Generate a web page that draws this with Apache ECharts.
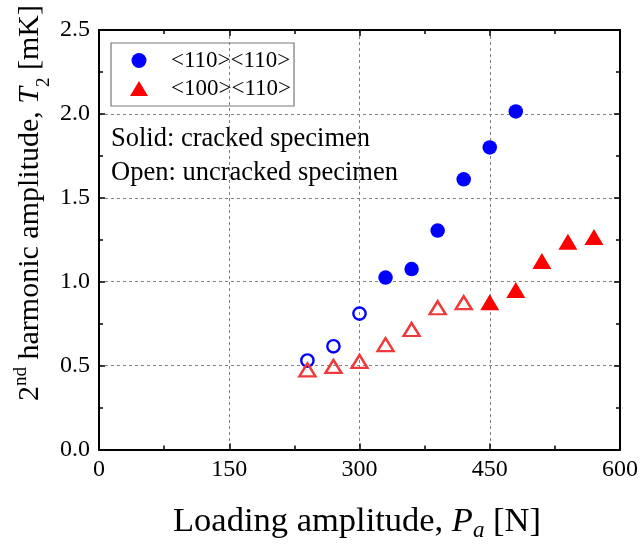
<!DOCTYPE html>
<html><head><meta charset="utf-8">
<script src="https://cdn.jsdelivr.net/npm/echarts@6/dist/echarts.min.js"></script>
<style>html,body{margin:0;padding:0;background:#fff}#c{width:641px;height:544px}</style>
</head><body><div id="c"></div>
<script>
const xMin = 0, xMax = 600, xStep = 150;
const yMin = 0, yMax = 2.5, yStep = 0.5;
const seriesNames = ['<110><110>', '<100><110>'];
const blueOpenX = [240, 270, 300];
const blueOpenY = [0.53, 0.615, 0.81];
const blueSolidX = [330, 360, 390, 420, 450, 480];
const blueSolidY = [1.025, 1.075, 1.305, 1.61, 1.80, 2.015];
const redOpenX = [240, 270, 300, 330, 360, 390, 420];
const redOpenY = [0.475, 0.495, 0.525, 0.625, 0.715, 0.845, 0.875];
const redSolidX = [450, 480, 510, 540, 570];
const redSolidY = [0.878, 0.95, 1.123, 1.238, 1.266];
const annotations = ['Solid: cracked specimen', 'Open: uncracked specimen'];

const FF = 'Liberation Serif';
const zip = (xs, ys) => xs.map((x, i) => [x, ys[i]]);

function axisBase(extra) {
  return Object.assign({
    type: 'value',
    axisLine: { show: true, onZero: false, lineStyle: { color: '#000', width: 2 } },
    axisTick: { show: true, inside: true, length: 6, lineStyle: { color: '#000', width: 1.5 } },
    minorTick: { show: true, splitNumber: 2, length: 4, lineStyle: { color: '#000', width: 1.5 } },
    axisLabel: { show: true, color: '#000', fontFamily: FF, fontSize: 24, margin: 8 },
    splitLine: { show: false },
    minorSplitLine: { show: false }
  }, extra);
}
const gridLine = { show: true, lineStyle: { color: '#808080', width: 1, type: [3, 3] } };

const chart = echarts.init(document.getElementById('c'), null, { renderer: 'canvas' });
chart.setOption({
  animation: false,
  backgroundColor: '#fff',
  grid: { left: 99, right: 21, top: 30, bottom: 94.5, containLabel: false },
  xAxis: [
    axisBase({ min: xMin, max: xMax, interval: xStep, position: 'bottom', splitLine: gridLine }),
    axisBase({ min: xMin, max: xMax, interval: xStep, position: 'top', axisLabel: { show: false } })
  ],
  yAxis: [
    axisBase({ min: yMin, max: yMax, interval: yStep, position: 'left', splitLine: gridLine,
      axisLabel: { show: true, color: '#000', fontFamily: FF, fontSize: 24, margin: 9, formatter: v => v.toFixed(1) } }),
    axisBase({ min: yMin, max: yMax, interval: yStep, position: 'right', axisLabel: { show: false } })
  ],
  legend: {
    data: [{ name: seriesNames[0], icon: 'circle' }, { name: seriesNames[1], icon: 'triangle' }],
    orient: 'vertical', left: 111, top: 43,
    itemWidth: 18, itemHeight: 15, itemGap: 5,
    padding: [6, 3, 6, 19],
    borderColor: '#777', borderWidth: 1.2, borderRadius: 0,
    textStyle: { fontFamily: FF, fontSize: 23, color: '#000', padding: [0, 0, 0, 18] },
    selectedMode: false
  },
  graphic: [
    { type: 'text', left: 111, top: 126, style: { text: annotations[0], fontFamily: FF, fontSize: 26.5, fill: '#000' } },
    { type: 'text', left: 111, top: 160, style: { text: annotations[1], fontFamily: FF, fontSize: 26.5, fill: '#000' } },
    { type: 'text', x: 357, y: 522, style: {
        text: 'Loading amplitude, {it|P}{sub|a} [N]', fontFamily: FF, fontSize: 34.5, fill: '#000',
        align: 'center', verticalAlign: 'middle',
        rich: {
          it: { fontFamily: FF, fontSize: 34.5, fontStyle: 'italic', lineHeight: 40 },
          sub: { fontFamily: FF, fontSize: 23, fontStyle: 'italic', verticalAlign: 'bottom', lineHeight: 20 }
        } } },
    { type: 'text', x: 30, y: 203, rotation: Math.PI / 2, style: {
        text: '2{sup|nd} harmonic amplitude, {it|T}{sub|2} [mK]', fontFamily: FF, fontSize: 30, fill: '#000',
        align: 'center', verticalAlign: 'middle',
        rich: {
          it: { fontFamily: FF, fontSize: 30, fontStyle: 'italic', lineHeight: 36 },
          sup: { fontFamily: FF, fontSize: 19, verticalAlign: 'top', lineHeight: 22 },
          sub: { fontFamily: FF, fontSize: 19, verticalAlign: 'bottom', lineHeight: 20, padding: [0, 0, -6, 0] }
        } } }
  ],
  series: [
    { name: seriesNames[0], type: 'scatter', data: zip(blueSolidX, blueSolidY), symbol: 'circle', symbolSize: 14.5,
      itemStyle: { color: '#0000ff', opacity: 1 }, z: 3 },
    { name: 'open110', type: 'scatter', data: zip(blueOpenX, blueOpenY), symbol: 'circle', symbolSize: 12.3,
      itemStyle: { color: 'rgba(0,0,0,0)', borderColor: '#0000ff', borderWidth: 2.4, opacity: 1 }, z: 3 },
    { name: seriesNames[1], type: 'scatter', data: zip(redSolidX, redSolidY), symbol: 'triangle', symbolSize: [19, 16],
      itemStyle: { color: '#ff0000', opacity: 1 }, z: 3 },
    { name: 'open100', type: 'scatter', data: zip(redOpenX, redOpenY), symbol: 'triangle', symbolSize: [16, 13],
      itemStyle: { color: 'rgba(0,0,0,0)', borderColor: '#ee3a3a', borderWidth: 2.4, opacity: 1 }, z: 3 }
  ]
});
</script>
</body></html>
